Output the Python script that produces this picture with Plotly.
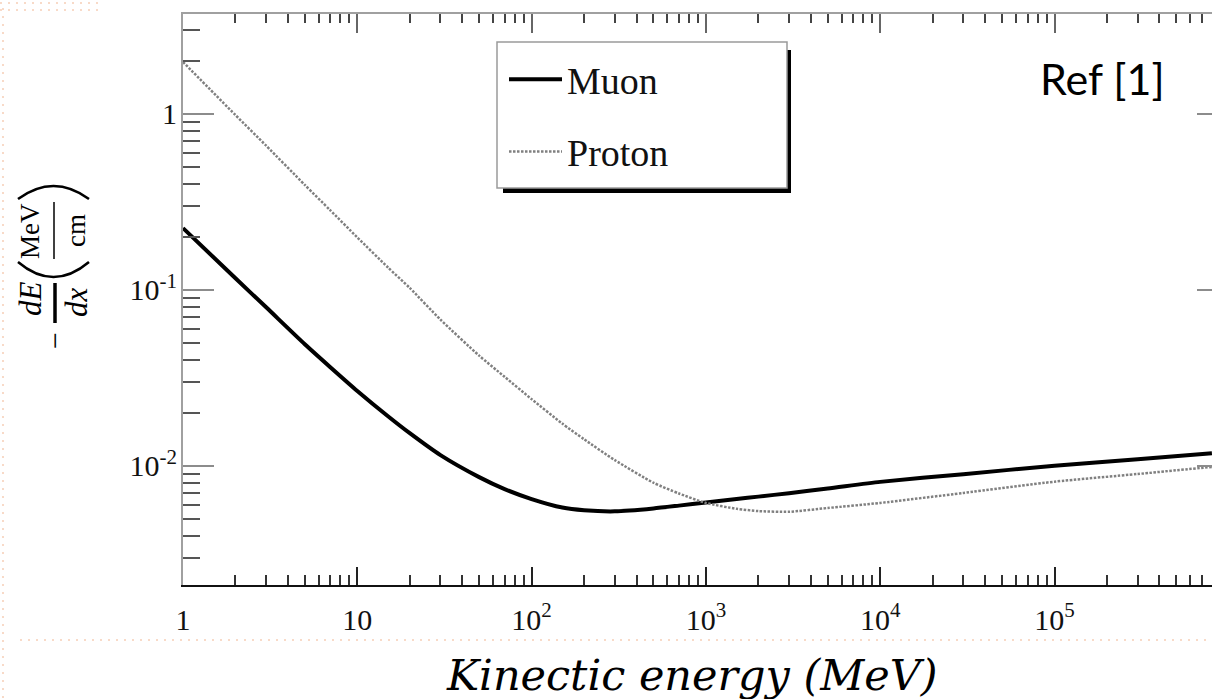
import plotly.graph_objects as go

# Stopping power curves, -dE/dx (MeV/cm), versus kinetic energy (MeV)
energy_mev = [1, 2, 3, 5, 7, 10, 15, 20, 30, 50, 70, 100, 150, 200, 300, 500,
              700, 1000, 1500, 2000, 3000, 5000, 1e4, 3e4, 1e5, 3e5, 8e5]
muon_dedx = [0.2239, 0.1161, 0.0794, 0.0490, 0.0363, 0.0266, 0.0191, 0.0153,
             0.01148, 0.00861, 0.00736, 0.00646, 0.00578, 0.00558, 0.00550,
             0.00571, 0.00593, 0.00618, 0.00646, 0.00667, 0.00698, 0.00741,
             0.00809, 0.00895, 0.0100, 0.01089, 0.01175]
proton_dedx = [1.968, 0.982, 0.658, 0.3936, 0.2825, 0.1982, 0.1337, 0.1023,
               0.0676, 0.0422, 0.0320, 0.02388, 0.01734, 0.01413, 0.01076,
               0.00800, 0.00695, 0.00614, 0.00569, 0.00552, 0.00547, 0.00575,
               0.00614, 0.00700, 0.00811, 0.00897, 0.00984]

x_major = [1, 10, 100, 1000, 1e4, 1e5]
x_major_text = ["1", "10", "10<sup>2</sup>", "10<sup>3</sup>",
                "10<sup>4</sup>", "10<sup>5</sup>"]
y_major = [0.01, 0.1, 1]
y_major_text = ["10<sup>-2</sup>", "10<sup>-1</sup>", "1"]

x_minor = [m * 10 ** d for d in range(0, 6) for m in range(2, 10)]
y_minor = [m * 10.0 ** d for d in range(-3, 1) for m in range(2, 10)]

W, H = 1212, 699
L, R, T, B = 183, 0, 14, 114
X_RANGE = [0, 5.9036]
Y_RANGE = [-2.678, 0.5665]

SERIF = "Liberation Serif"


def px(x):
    """pixel column -> paper x"""
    return (x - L) / (W - L - R)


def py(y):
    """pixel row -> paper y"""
    return (H - B - y) / (H - T - B)


fig = go.Figure()

fig.add_trace(go.Scatter(
    x=energy_mev, y=muon_dedx, name="Muon", mode="lines",
    line=dict(color="#000000", width=4, shape="spline", smoothing=0.6),
    legendgroup="muon",
))
fig.add_trace(go.Scatter(
    x=energy_mev, y=proton_dedx, name="Proton", mode="lines",
    line=dict(color="#808080", width=2.5, dash="2.5px,1.5px",
              shape="spline", smoothing=0.6),
    legendgroup="proton",
))
# empty trace that carries the top / right tick frame
fig.add_trace(go.Scatter(x=[], y=[], xaxis="x2", yaxis="y2",
                         showlegend=False, hoverinfo="skip"))

tick_font = dict(family=SERIF, size=30, color="#111111")

fig.update_layout(
    width=W, height=H,
    margin=dict(l=L, r=R, t=T, b=B, pad=0),
    paper_bgcolor="white", plot_bgcolor="white",
    showlegend=True,
    legend=dict(
        x=px(504), y=py(48), xanchor="left", yanchor="top",
        bgcolor="rgba(0,0,0,0)", borderwidth=0,
        font=dict(family=SERIF, size=38, color="#111111"),
        itemwidth=53, traceorder="grouped", tracegroupgap=20,
    ),
    xaxis=dict(
        type="log", range=X_RANGE, showgrid=False, zeroline=False,
        showline=True, linecolor="#111111", linewidth=2,
        tickmode="array", tickvals=x_major, ticktext=x_major_text,
        ticks="inside", ticklen=18, tickwidth=1.5, tickcolor="#222222",
        tickfont=tick_font, ticklabelstandoff=7,
        minor=dict(tickmode="array", tickvals=x_minor, ticks="inside",
                   ticklen=10, tickwidth=1.5, tickcolor="#333333",
                   showgrid=False),
    ),
    yaxis=dict(
        type="log", range=Y_RANGE, showgrid=False, zeroline=False,
        showline=True, linecolor="#a0a0a0", linewidth=2,
        tickmode="array", tickvals=y_major, ticktext=y_major_text,
        ticks="inside", ticklen=31, tickwidth=2, tickcolor="#8c8c8c",
        tickfont=tick_font, ticklabelstandoff=-2,
        minor=dict(tickmode="array", tickvals=y_minor, ticks="inside",
                   ticklen=17, tickwidth=1.5, tickcolor="#555555",
                   showgrid=False),
    ),
    xaxis2=dict(
        type="log", range=X_RANGE, overlaying="x", side="top", anchor="y2",
        showgrid=False, zeroline=False, showticklabels=False,
        showline=True, linecolor="#a0a0a0", linewidth=2,
        tickmode="array", tickvals=x_major,
        ticks="inside", ticklen=19, tickwidth=1.5, tickcolor="#666666",
        minor=dict(tickmode="array", tickvals=x_minor, ticks="inside",
                   ticklen=9, tickwidth=1.5, tickcolor="#444444",
                   showgrid=False),
    ),
    yaxis2=dict(
        type="log", range=Y_RANGE, overlaying="y", side="right", anchor="x2",
        showgrid=False, zeroline=False, showticklabels=False, showline=False,
        tickmode="array", tickvals=y_major,
        ticks="inside", ticklen=15, tickwidth=2, tickcolor="#8c8c8c",
    ),
)

shapes = []

# faint dotted slide-background guides
guide = dict(color="#f8dac8", width=2, dash="2px,6px")
shapes.append(dict(type="line", xref="paper", yref="paper", layer="below",
                   x0=px(3), x1=px(3), y0=py(8), y1=py(H), line=guide))
shapes.append(dict(type="line", xref="paper", yref="paper", layer="below",
                   x0=px(0), x1=px(100), y0=py(3), y1=py(3), line=guide))
shapes.append(dict(type="line", xref="paper", yref="paper", layer="below",
                   x0=px(0), x1=px(100), y0=py(10), y1=py(10), line=guide))
shapes.append(dict(type="line", xref="paper", yref="paper", layer="below",
                   x0=px(20), x1=px(W), y0=py(640), y1=py(640), line=guide))

# legend frame with drop shadow
shapes.append(dict(type="rect", xref="paper", yref="paper", layer="above",
                   x0=px(503), x1=px(791), y0=py(50), y1=py(193),
                   fillcolor="#000000", line=dict(width=0)))
shapes.append(dict(type="rect", xref="paper", yref="paper", layer="above",
                   x0=px(497), x1=px(787), y0=py(42), y1=py(188),
                   fillcolor="white", line=dict(color="#9a9a9a", width=1.5)))

# fraction bars and parentheses of the y-axis label
shapes.append(dict(type="line", xref="paper", yref="paper", layer="above",
                   x0=px(55), x1=px(55), y0=py(283), y1=py(323),
                   line=dict(color="#000000", width=3.5)))
shapes.append(dict(type="line", xref="paper", yref="paper", layer="above",
                   x0=px(54), x1=px(54), y0=py(202), y1=py(259),
                   line=dict(color="#000000", width=1.5)))


def arc(x0, y0, xm, ym, x2, y2):
    cx = 2 * xm - (x0 + x2) / 2
    cy = 2 * ym - (y0 + y2) / 2
    return (f"M {px(x0)},{py(y0)} Q {px(cx)},{py(cy)} {px(x2)},{py(y2)}")


shapes.append(dict(type="path", xref="paper", yref="paper", layer="above",
                   path=arc(18, 262, 53.5, 277, 89, 262),
                   line=dict(color="#000000", width=2.5)))
shapes.append(dict(type="path", xref="paper", yref="paper", layer="above",
                   path=arc(18, 199, 53.5, 186, 89, 199),
                   line=dict(color="#000000", width=2.5)))

fig.update_layout(shapes=shapes)

annotations = []


def label(text, x, y, size, family=SERIF, angle=0):
    annotations.append(dict(
        text=text, xref="paper", yref="paper", x=px(x), y=py(y),
        xanchor="center", yanchor="middle", showarrow=False,
        textangle=angle, font=dict(family=family, size=size, color="#000000"),
    ))


# y-axis label:  - dE/dx (MeV/cm)
label("\u2212", 54, 341, 30, angle=-90)
label("<i>dE</i>", 30, 299, 31, angle=-90)
label("<i>dx</i>", 76, 302, 31, angle=-90)
label("MeV", 30, 231, 27, angle=-90)
label("cm", 76, 231, 27, angle=-90)

# x-axis label
label("<i>Kinectic energy (MeV)</i>", 692, 675, 43, family="DejaVu Serif")

# source note
label("Ref [1]", 1102, 78, 43, family="Lato")

fig.update_layout(annotations=annotations)

fig.write_html("out.html")
